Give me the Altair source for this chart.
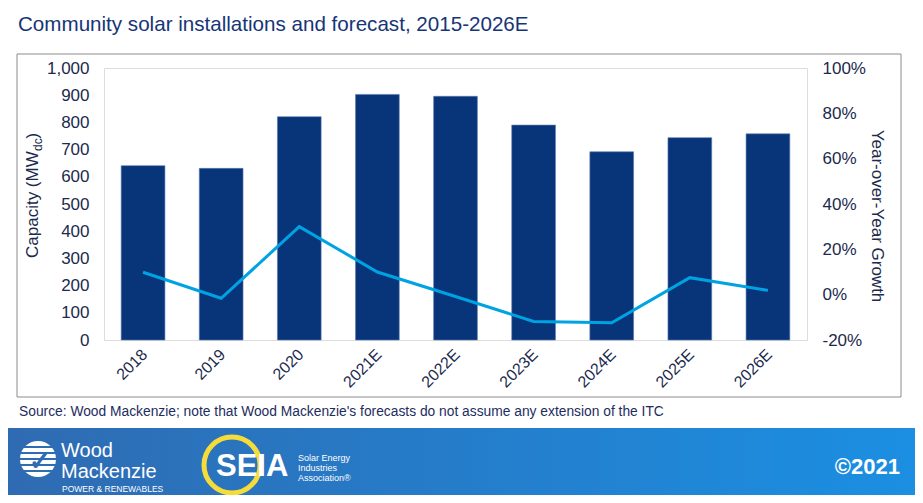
import altair as alt
import pandas as pd

# ---- data ----
years = ["2018", "2019", "2020", "2021E", "2022E", "2023E", "2024E", "2025E", "2026E"]
capacity_mw = [641, 631, 821, 903, 896, 790, 692, 744, 758]
yoy_growth = [0.099, -0.016, 0.300, 0.100, -0.008, -0.118, -0.124, 0.075, 0.019]

left_ticks = [0, 100, 200, 300, 400, 500, 600, 700, 800, 900, 1000]
right_ticks = [-0.2, 0.0, 0.2, 0.4, 0.6, 0.8, 1.0]

title_text = "Community solar installations and forecast, 2015-2026E"
source_text = "Source: Wood Mackenzie; note that Wood Mackenzie's forecasts do not assume any extension of the ITC"
right_title = "Year-over-Year Growth"

df = pd.DataFrame({"year": years, "capacity": capacity_mw, "growth": yoy_growth})

# ---- layout (plot area origin at page px 104,68) ----
W, H = 703, 272
OX, OY = 104, 68

BAR_COLOR = "#08357a"
LINE_COLOR = "#00a3e2"
TXT = "#1b2a4e"
FONT = "Liberation Sans"


def px(x):
    return x - OX


def py(y):
    return y - OY


def text_layer(t, x, y, **kw):
    return alt.Chart(pd.DataFrame({"t": [t]})).mark_text(font=FONT, **kw).encode(
        x=alt.value(px(x)), y=alt.value(py(y)), text="t:N"
    )


x_enc = alt.X(
    "year:N",
    sort=years,
    scale=alt.Scale(paddingInner=0.44, paddingOuter=0.22),
    axis=alt.Axis(
        title=None, labelAngle=-45, labelAlign="right", labelBaseline="top",
        labelFontSize=16, labelColor=TXT, labelFont=FONT, domain=False, ticks=False,
        labelPadding=6, labelOffset=-4,
    ),
)

bars = alt.Chart(df).mark_bar(color=BAR_COLOR, stroke="#5a7bb0", strokeWidth=0.6).encode(
    x=x_enc,
    y=alt.Y(
        "capacity:Q",
        scale=alt.Scale(domain=[0, 1000], nice=False),
        axis=alt.Axis(
            title=None, values=left_ticks, format=",d", grid=False, domain=False, ticks=False,
            labelFontSize=17, labelColor=TXT, labelFont=FONT, labelPadding=15,
        ),
    ),
)

line = alt.Chart(df).mark_line(color=LINE_COLOR, strokeWidth=3).encode(
    x=x_enc,
    y=alt.Y(
        "growth:Q",
        scale=alt.Scale(domain=[-0.2, 1.0], nice=False),
        axis=alt.Axis(
            title=None, orient="right", values=right_ticks,
            labelExpr="round(datum.value*100) + '%'",
            grid=False, domain=False, ticks=False,
            labelFontSize=17, labelColor=TXT, labelFont=FONT, labelPadding=15,
        ),
    ),
)

plot = alt.layer(bars, line).resolve_scale(y="independent")

# ---- decorations ----
one = pd.DataFrame({"a": [0]})

border = alt.Chart(one).mark_rect(fill=None, stroke="#8c8c8c", strokeWidth=1).encode(
    x=alt.value(px(17)), x2=alt.value(px(901)), y=alt.value(py(54)), y2=alt.value(py(397))
)

banner = alt.Chart(one).mark_rect(
    fill=alt.Gradient(
        gradient="linear", x1=0, y1=0, x2=1, y2=0,
        stops=[alt.GradientStop(color="#2f6bb2", offset=0),
               alt.GradientStop(color="#1b8fe2", offset=1)],
    )
).encode(x=alt.value(px(8)), x2=alt.value(px(915)), y=alt.value(py(428)), y2=alt.value(py(495)))

title = text_layer(title_text, 18, 25, fontSize=20.6, color="#163577", align="left", baseline="middle")
source = text_layer(source_text, 19, 412, fontSize=13.8, color="#1d2d5e", align="left", baseline="middle")

ylab1 = text_layer("Capacity (MW", 33, 258, fontSize=17, color=TXT, align="left", baseline="middle", angle=270)
ylab2 = text_layer("dc", 38, 151, fontSize=12, color=TXT, align="left", baseline="middle", angle=270)
ylab3 = text_layer(")", 33, 138.5, fontSize=17, color=TXT, align="left", baseline="middle", angle=270)
ylab_r = text_layer(right_title, 877, 216, fontSize=17, color=TXT, align="center", baseline="middle", angle=90)

# Wood Mackenzie logo (approximation)
wm_circle = alt.Chart(one).mark_point(shape="circle", filled=True, color="white", size=1296, opacity=1).encode(
    x=alt.value(px(38)), y=alt.value(py(459))
)
stripe_df = pd.DataFrame({"yy": [py(447), py(453), py(459), py(465), py(471)]})
wm_stripes = alt.Chart(stripe_df).mark_rule(color="#2e6cb3", strokeWidth=2).encode(
    x=alt.value(px(20)), x2=alt.value(px(56)), y=alt.Y("yy:Q", scale=None)
)
wm_check = text_layer("✓", 40, 462, fontSize=26, color="#2e6cb3", align="center", baseline="middle", fontWeight="bold")
wm1 = text_layer("Wood", 61, 451, fontSize=20, color="white", align="left", baseline="middle")
wm2 = text_layer("Mackenzie", 61, 472, fontSize=20, color="white", align="left", baseline="middle")
wm3 = text_layer("POWER & RENEWABLES", 62, 489, fontSize=8.5, color="white", align="left", baseline="middle")

# SEIA logo (approximation)
seia_ring = alt.Chart(one).mark_point(shape="circle", filled=False, color="#f5dc3a", size=3136, strokeWidth=5, opacity=1).encode(
    x=alt.value(px(232)), y=alt.value(py(465))
)
seia = text_layer("SEIA", 216, 467, fontSize=31, color="white", align="left", baseline="middle", fontWeight="bold")
seia1 = text_layer("Solar Energy", 298, 458, fontSize=9, color="white", align="left", baseline="middle")
seia2 = text_layer("Industries", 298, 468, fontSize=9, color="white", align="left", baseline="middle")
seia3 = text_layer("Association®", 298, 478, fontSize=9, color="white", align="left", baseline="middle")

copy = text_layer("©2021", 900, 467, fontSize=22, color="white", align="right", baseline="middle", fontWeight="bold")

deco = alt.layer(
    border, banner, title, source, ylab1, ylab2, ylab3, ylab_r,
    wm_circle, wm_stripes, wm_check, wm1, wm2, wm3,
    seia_ring, seia, seia1, seia2, seia3, copy,
)

chart = alt.layer(plot, deco).resolve_scale(y="independent").properties(
    width=W, height=H,
    autosize=alt.AutoSizeParams(type="none"),
    padding={"left": OX - 8, "top": OY - 8, "right": 915 - (OX + W), "bottom": 495 - (OY + H)},
).configure_view(fill="#f2f2f2", strokeWidth=0).configure(background="white")

chart.save("out.html", embed_options={"renderer": "svg", "actions": False})
